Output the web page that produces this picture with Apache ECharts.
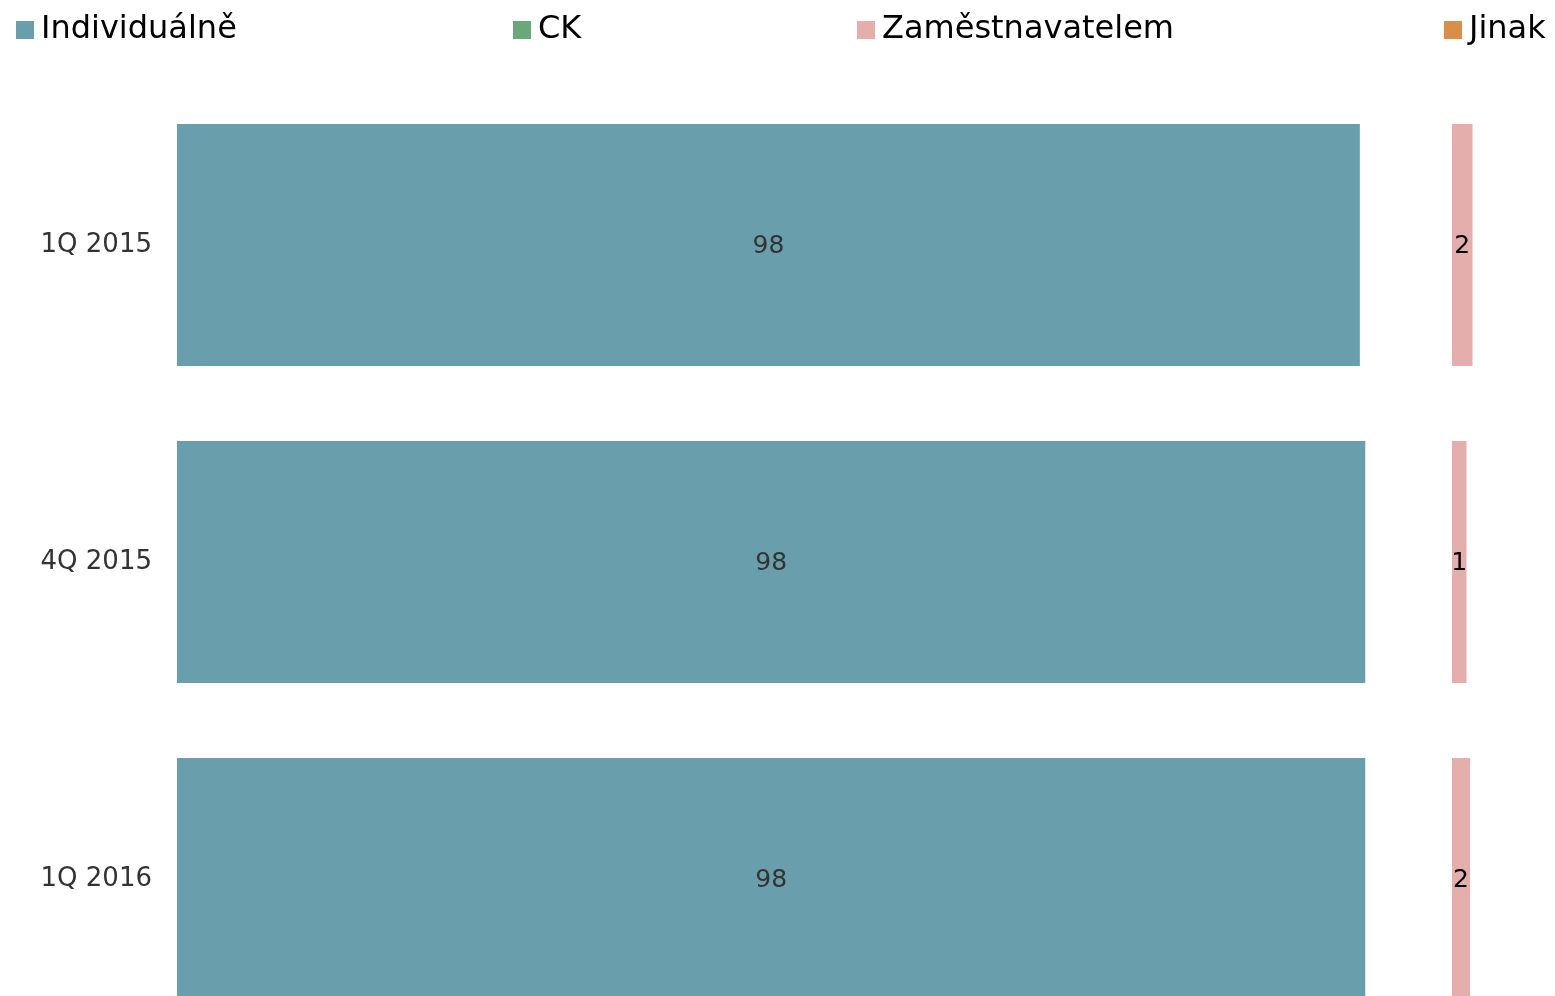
<!DOCTYPE html>
<html>
<head>
<meta charset="utf-8">
<script src="https://cdn.jsdelivr.net/npm/echarts@6/dist/echarts.min.js"></script>
<style>
html,body{margin:0;padding:0;background:#fff;}
#chart{width:1555px;height:996px;}
</style>
</head>
<body>
<div id="chart"></div>
<script>
var categories = ['1Q 2015', '4Q 2015', '1Q 2016'];
var individualne = [98.0, 98.45, 98.45];
var ck = [0, 0, 0];
var zamestnavatelem = [1.7, 1.2, 1.5];
var jinak = [0, 0, 0];
var seriesNames = ['Individuálně', 'CK', 'Zaměstnavatelem', 'Jinak'];
var colors = ['#699fad', '#6aa77a', '#e3aeab', '#d98f4a'];

var FONT = 'DejaVu Sans';
var chart = echarts.init(document.getElementById('chart'), null, {renderer: 'canvas'});

function legendFor(name, left) {
  return {
    data: [name], left: left, top: 14, padding: 0, icon: 'rect',
    itemWidth: 18, itemHeight: 18, itemGap: 0,
    textStyle: {fontFamily: FONT, fontSize: 32, color: '#000', padding: [0, 0, 0, 2]}
  };
}

var yAxisBase = {
  type: 'category', data: categories, inverse: true,
  axisLine: {show: false}, axisTick: {show: false}, splitLine: {show: false}
};
var xAxisBase = {type: 'value', min: 0, show: false, splitLine: {show: false}};

function roundLabel(p) { return Math.round(p.value); }

var option = {
  animation: false,
  backgroundColor: '#fff',
  color: colors,
  legend: [
    legendFor(seriesNames[0], 16),
    legendFor(seriesNames[1], 513),
    legendFor(seriesNames[2], 857),
    legendFor(seriesNames[3], 1444)
  ],
  grid: [
    {left: 177, top: 86.5, width: 1207, height: 951, containLabel: false, outerBoundsMode: 'none'},
    {left: 1452, top: 86.5, width: 120.7, height: 951, containLabel: false, outerBoundsMode: 'none'}
  ],
  xAxis: [
    Object.assign({}, xAxisBase, {gridIndex: 0, max: 100}),
    Object.assign({}, xAxisBase, {gridIndex: 1, max: 10})
  ],
  yAxis: [
    Object.assign({}, yAxisBase, {gridIndex: 0,
      axisLabel: {show: true, margin: 25, fontFamily: FONT, fontSize: 26, color: '#333'}}),
    Object.assign({}, yAxisBase, {gridIndex: 1, axisLabel: {show: false}})
  ],
  series: [
    {
      name: seriesNames[0], type: 'bar', stack: 'a', xAxisIndex: 0, yAxisIndex: 0,
      data: individualne, barCategoryGap: '23.7%',
      label: {show: true, position: 'inside', formatter: roundLabel,
        fontFamily: FONT, fontSize: 25, color: '#333', offset: [0, 1]}
    },
    {
      name: seriesNames[1], type: 'bar', stack: 'b', xAxisIndex: 1, yAxisIndex: 1,
      data: ck, barCategoryGap: '23.7%', label: {show: false}
    },
    {
      name: seriesNames[2], type: 'bar', stack: 'b', xAxisIndex: 1, yAxisIndex: 1,
      data: zamestnavatelem, barCategoryGap: '23.7%',
      label: {show: true, position: 'inside', formatter: roundLabel,
        fontFamily: FONT, fontSize: 25, color: '#000', offset: [0, 1]}
    },
    {
      name: seriesNames[3], type: 'bar', stack: 'b', xAxisIndex: 1, yAxisIndex: 1,
      data: jinak, barCategoryGap: '23.7%', label: {show: false}
    }
  ]
};
chart.setOption(option);
</script>
</body>
</html>
